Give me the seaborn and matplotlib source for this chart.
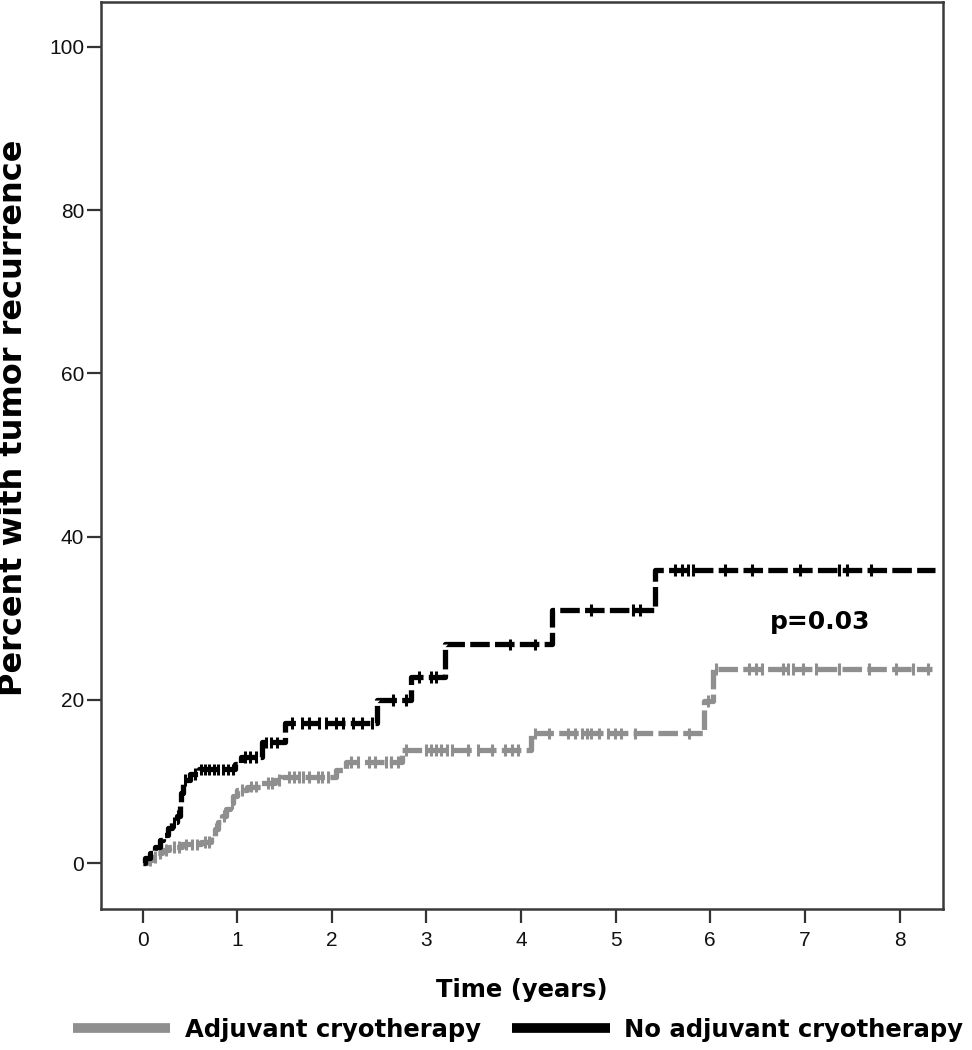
import numpy as np
import pandas as pd
import matplotlib
matplotlib.use("Agg")
import matplotlib.pyplot as plt
from matplotlib.lines import Line2D
import seaborn as sns

# Estilo
sns.set_style("white")
plt.rcParams['font.family'] = ['Liberation Sans', 'DejaVu Sans']
plt.rcParams['text.color'] = 'black'

# Curvas Kaplan-Meier (tiempo en anos, % con recurrencia)
groups = ["Adjuvant cryotherapy", "No adjuvant cryotherapy"]

adj_t = [0.00, 0.05, 0.10, 0.15, 0.21, 0.28, 0.42, 0.62, 0.72, 0.76, 0.80, 0.84, 0.88,
         0.92, 0.96, 1.00, 1.10, 1.25, 1.40, 1.47, 2.04, 2.15, 2.74, 4.10, 5.93, 6.03]
adj_y = [0.0, 0.4, 0.8, 1.2, 1.6, 2.0, 2.3, 2.6, 3.3, 4.2, 5.0, 5.8, 6.6,
         7.4, 8.2, 9.0, 9.4, 9.8, 10.2, 10.6, 11.4, 12.4, 13.9, 15.9, 19.9, 23.8]
adj_end = 8.34
adj_cens = [0.08, 0.13, 0.18, 0.25, 0.33, 0.38, 0.46, 0.52, 0.57, 0.66, 0.70, 0.78, 0.86,
            0.94, 1.05, 1.15, 1.20, 1.32, 1.37, 1.44, 1.55, 1.60, 1.65, 1.70, 1.76, 1.85,
            1.90, 1.96, 2.20, 2.28, 2.39, 2.46, 2.57, 2.63, 2.70, 2.78, 3.00, 3.05, 3.10,
            3.15, 3.22, 3.27, 3.44, 3.55, 3.69, 3.83, 3.90, 3.97, 4.15, 4.29, 4.50, 4.57,
            4.64, 4.70, 4.74, 4.82, 4.92, 4.99, 5.06, 5.20, 5.77, 5.98, 6.06, 6.41, 6.48,
            6.55, 6.77, 6.82, 6.87, 6.98, 7.12, 7.36, 7.68, 7.96, 8.14, 8.30]

noadj_t = [0.00, 0.03, 0.08, 0.13, 0.18, 0.22, 0.27, 0.31, 0.36, 0.39, 0.41, 0.43, 0.50,
           0.60, 0.98, 1.04, 1.26, 1.50, 2.48, 2.84, 3.20, 4.33, 5.42]
noadj_y = [0.0, 0.6, 1.2, 2.0, 2.8, 3.5, 4.3, 5.0, 5.8, 7.0, 8.6, 10.2, 10.9,
           11.5, 12.2, 13.0, 14.8, 17.2, 20.0, 22.8, 26.8, 31.0, 35.9]
noadj_end = 8.37
noadj_cens = [0.33, 0.37, 0.45, 0.55, 0.62, 0.66, 0.70, 0.75, 0.80, 0.85, 0.90, 0.95,
              1.08, 1.14, 1.20, 1.30, 1.36, 1.42, 1.58, 1.68, 1.76, 1.86, 1.94, 2.04,
              2.12, 2.22, 2.32, 2.42, 2.65, 2.78, 2.92, 3.05, 3.10, 3.88, 4.15, 4.74,
              5.18, 5.26, 5.63, 5.70, 5.76, 5.82, 6.16, 6.44, 6.95, 7.36, 7.44, 7.70]

x_ticks = [0, 1, 2, 3, 4, 5, 6, 7, 8]
y_ticks = [0, 20, 40, 60, 80, 100]
p_text = "p=0.03"

colores = {"Adjuvant cryotherapy": "#8f8f8f", "No adjuvant cryotherapy": "#000000"}

# DataFrames para seaborn
curvas = []
censuras = []
for g, t, y, fin, cens in [(groups[0], adj_t, adj_y, adj_end, adj_cens),
                           (groups[1], noadj_t, noadj_y, noadj_end, noadj_cens)]:
    curvas.append(pd.DataFrame({"tiempo": t + [fin], "pct": y + [y[-1]], "grupo": g}))
    idx = np.searchsorted(t, cens, side="right") - 1
    censuras.append(pd.DataFrame({"tiempo": cens, "pct": np.array(y)[idx], "grupo": g}))
df_curvas = pd.concat(curvas, ignore_index=True)
df_cens = pd.concat(censuras, ignore_index=True)

fig = plt.figure(figsize=(9.72, 10.5), dpi=100)
ax = fig.add_axes([0.1039, 0.1343, 0.8663, 0.8638])

sns.lineplot(data=df_curvas, x="tiempo", y="pct", hue="grupo", hue_order=groups,
             palette=colores, estimator=None, drawstyle="steps-post", linewidth=3.8,
             linestyle=(0, (3.7, 1.0)), legend=False, ax=ax)
sns.scatterplot(data=df_cens, x="tiempo", y="pct", hue="grupo", hue_order=groups,
                palette=colores, marker="|", s=70, linewidth=2.2, legend=False, ax=ax)

ax.set_xlim(-0.44, 8.46)
ax.set_ylim(-5.6, 105.5)
ax.set_xticks(x_ticks)
ax.set_yticks(y_ticks)
ax.set_xlabel("")
ax.set_ylabel("")
ax.tick_params(axis="both", direction="out", length=10, width=1.6, color="#333333",
               labelsize=15, labelcolor="#111111", bottom=True, left=True)
ax.tick_params(axis="x", pad=6)
ax.tick_params(axis="y", pad=2)
for s in ax.spines.values():
    s.set_color("#3a3a3a")
    s.set_linewidth(1.8)

ax.text(7.16, 29.6, p_text, ha="center", va="center", fontsize=18,
        fontweight="bold", family="DejaVu Sans", color="black")

fig.text(14 / 972, 1 - 418 / 1050, "Percent with tumor recurrence", rotation=90,
         ha="center", va="center", fontsize=23, fontweight="bold", family="DejaVu Sans")
fig.text(522 / 972, 1 - 990 / 1050, "Time (years)", ha="center", va="center",
         fontsize=17.5, fontweight="bold", family="DejaVu Sans")

handles = [Line2D([0], [0], color=colores[g], linewidth=7, solid_capstyle="butt")
           for g in groups]
fig.legend(handles, groups, loc="center", bbox_to_anchor=(518 / 972, 1 - 1030 / 1050),
           ncol=2, frameon=False, handlelength=4.0, handletextpad=0.6, columnspacing=1.3,
           prop={"family": "DejaVu Sans", "weight": "bold", "size": 17.5})

fig.savefig("out.png", dpi=100)
